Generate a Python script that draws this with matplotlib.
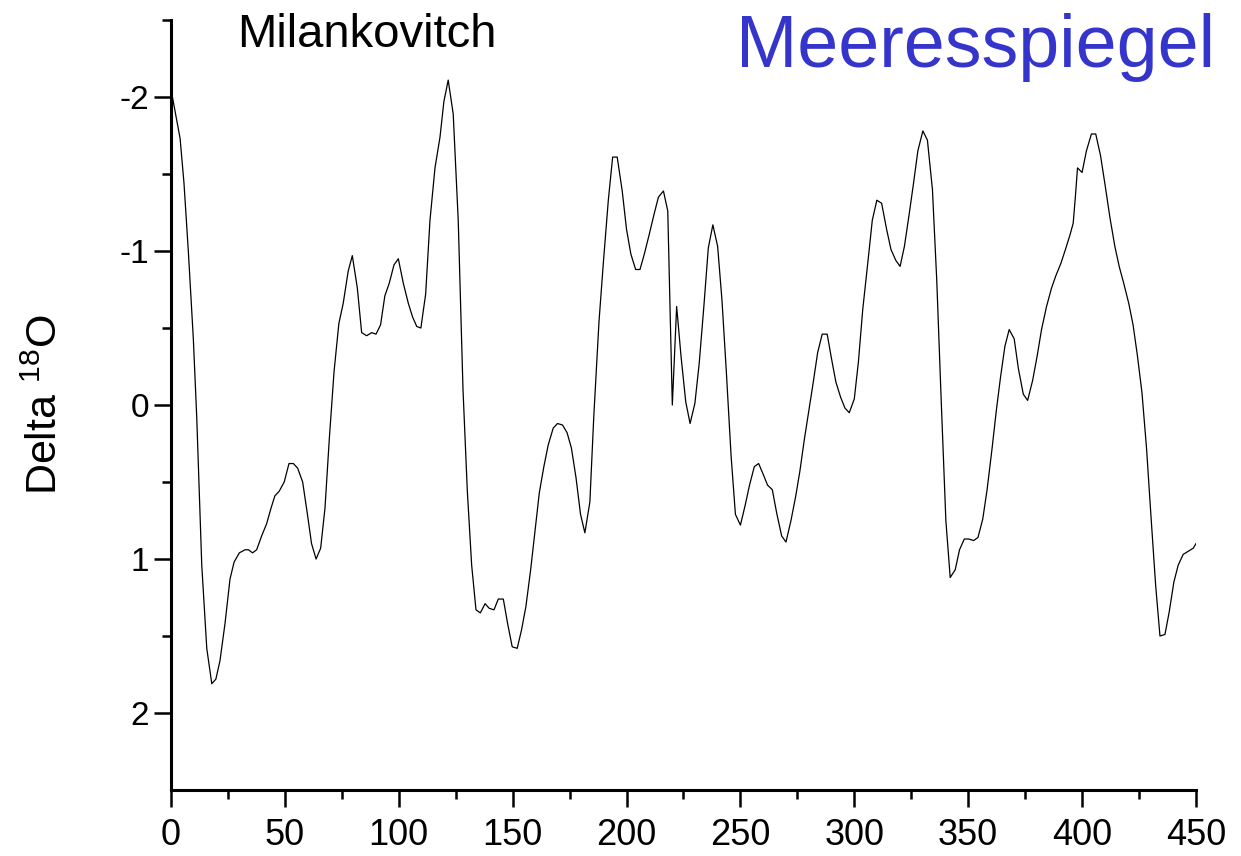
import numpy as np
import matplotlib
matplotlib.use("Agg")
import matplotlib.pyplot as plt

# age (kyr before present) and delta 18O
age = [0, 4, 5.7, 7.6, 9.8, 11.3, 13.5, 15.7, 17.9, 19.7, 21.5, 23.7, 25.9, 27.7,
       30, 32.5, 34, 35.8, 37.6, 39.8, 42, 43.9, 45.6, 47.5, 49.7, 51.8, 53.7,
       55.6, 57.8, 59.8, 61.7, 63.7, 65.7, 67.6, 69.5, 71.6, 73.7, 75.6, 77.8,
       79.6, 81.8, 83.7, 85.9, 88.1, 90, 92, 93.9, 95.8, 97.9, 99.8, 102, 104.2,
       106.1, 107.9, 109.7, 111.8, 113.7, 115.9, 118.1, 119.8, 121.7, 123.9,
       126.1, 128.2, 130.1, 132, 133.9, 135.8, 137.9, 139.7, 141.8, 143.7, 145.9,
       147.8, 149.8, 152, 153.9, 155.8, 157.9, 159.8, 161.7, 163.7, 165.6, 167.8,
       169.7, 171.9, 173.9, 175.8, 177.8, 179.8, 181.7, 183.9, 185.6, 187.9,
       189.8, 192, 193.9, 195.9, 198.1, 200, 201.9, 204, 205.9, 207.8, 210,
       212.1, 214, 216.2, 218.1, 220.1, 222, 223.9, 226, 227.9, 230, 231.9, 234,
       235.9, 237.9, 240, 241.9, 243.8, 245.9, 247.8, 250, 252.1, 254, 256.1,
       258, 260, 261.9, 264, 265.9, 268.1, 270, 272.2, 274.3, 276.1, 278, 280.1,
       282, 283.9, 285.9, 288.1, 290, 291.9, 294, 295.9, 297.8, 300, 301.8,
       303.7, 305.9, 307.9, 309.9, 312, 314.2, 316.1, 318.2, 320.1, 322, 324.1,
       326, 327.9, 330.1, 332.1, 334.3, 336.2, 338.1, 340.2, 342.1, 344.3, 346.2,
       348.3, 350.2, 352.4, 354.3, 356.4, 358.3, 360.5, 362.4, 364.1, 366.1, 368,
       370.2, 372, 374.2, 376.1, 378.3, 380.3, 382.2, 384.4, 386.6, 388.5, 390.7,
       392.7, 394.6, 396.1, 397.1, 398, 400, 401.9, 404.1, 406, 408.1, 410.3,
       412.2, 414.4, 416.3, 418.3, 420.5, 422.4, 424.3, 426.3, 428.3, 430.2,
       432.3, 434.2, 436.4, 438.3, 440.3, 442.2, 444.4, 446.6, 448.8, 450]
delta18o = [-2.05, -1.73, -1.44, -1.0, -0.43, 0.08, 1.04, 1.58, 1.81, 1.78, 1.66,
            1.42, 1.13, 1.02, 0.96, 0.94, 0.94, 0.96, 0.94, 0.85, 0.77, 0.67,
            0.59, 0.56, 0.50, 0.38, 0.38, 0.41, 0.50, 0.70, 0.90, 1.00, 0.93,
            0.67, 0.22, -0.22, -0.53, -0.66, -0.87, -0.97, -0.76, -0.47, -0.45,
            -0.47, -0.46, -0.52, -0.71, -0.79, -0.91, -0.95, -0.79, -0.66, -0.57,
            -0.51, -0.50, -0.72, -1.2, -1.54, -1.74, -1.97, -2.11, -1.89, -1.2,
            -0.1, 0.56, 1.04, 1.33, 1.35, 1.29, 1.32, 1.33, 1.26, 1.26, 1.42,
            1.57, 1.58, 1.46, 1.31, 1.07, 0.82, 0.57, 0.40, 0.26, 0.15, 0.12,
            0.13, 0.18, 0.28, 0.47, 0.71, 0.83, 0.63, 0.08, -0.54, -0.92, -1.33,
            -1.61, -1.61, -1.39, -1.14, -0.98, -0.88, -0.88, -0.98, -1.11, -1.24,
            -1.35, -1.39, -1.26, 0.0, -0.64, -0.32, -0.02, 0.12, -0.01, -0.27,
            -0.65, -1.02, -1.17, -1.03, -0.68, -0.22, 0.33, 0.71, 0.78, 0.65,
            0.52, 0.40, 0.38, 0.45, 0.52, 0.55, 0.70, 0.85, 0.89, 0.75, 0.59,
            0.43, 0.23, 0.03, -0.15, -0.34, -0.46, -0.46, -0.30, -0.15, -0.05,
            0.02, 0.05, -0.04, -0.28, -0.62, -0.92, -1.20, -1.33, -1.31, -1.14,
            -1.01, -0.94, -0.90, -1.03, -1.24, -1.44, -1.65, -1.78, -1.72, -1.40,
            -0.81, -0.05, 0.75, 1.12, 1.07, 0.94, 0.87, 0.87, 0.88, 0.86, 0.74,
            0.55, 0.28, 0.03, -0.17, -0.38, -0.49, -0.43, -0.24, -0.07, -0.03,
            -0.16, -0.32, -0.49, -0.64, -0.76, -0.84, -0.92, -1.01, -1.10, -1.18,
            -1.36, -1.54, -1.51, -1.65, -1.76, -1.76, -1.62, -1.41, -1.22, -1.03,
            -0.90, -0.79, -0.66, -0.52, -0.32, -0.08, 0.28, 0.71, 1.17, 1.50,
            1.49, 1.34, 1.15, 1.04, 0.97, 0.95, 0.93, 0.90]

x_ticks = [0, 50, 100, 150, 200, 250, 300, 350, 400, 450]
y_ticks = [-2, -1, 0, 1, 2]

plt.rcParams['font.family'] = ['Liberation Sans', 'DejaVu Sans']
plt.rcParams['mathtext.default'] = 'regular'

fig = plt.figure(figsize=(12.41, 8.56), dpi=100)
ax = fig.add_axes([0.1378, 0.0771, 0.8259, 0.8995])

ax.plot(age, delta18o, color='black', linewidth=0.9)

ax.set_xlim(0, 450)
ax.set_ylim(2.5, -2.5)

# axes look
for side in ['top', 'right']:
    ax.spines[side].set_visible(False)
for side in ['left', 'bottom']:
    ax.spines[side].set_linewidth(2.2)

ax.set_xticks(x_ticks)
ax.set_xticks(np.arange(25, 450, 50), minor=True)
ax.set_yticks(y_ticks)
ax.set_yticks([-2.5, -1.5, -0.5, 0.5, 1.5], minor=True)
ax.set_yticklabels([str(v) for v in y_ticks])

ax.tick_params(which='major', direction='out', length=12, width=1.8)
ax.tick_params(which='minor', direction='out', length=6.5, width=1.8)
ax.tick_params(axis='y', which='major', labelsize=24, pad=4)
ax.tick_params(axis='x', which='major', labelsize=26, pad=8)

ax.set_ylabel(r'Delta $^{18}$O', fontsize=31, labelpad=38)

fig.text(367/1241, 1 - 47/856, 'Milankovitch', fontsize=34,
         ha='center', va='baseline')
fig.text(975/1241, 1 - 48/856, 'Meeresspiegel', fontsize=53,
         color='#3535cc', ha='center', va='center')

fig.savefig('out.png', dpi=100)
